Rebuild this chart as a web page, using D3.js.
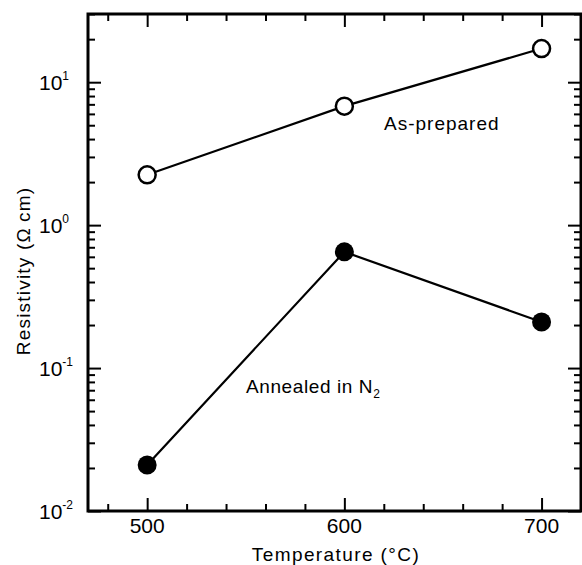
<!DOCTYPE html>
<html><head><meta charset="utf-8">
<script src="https://cdn.jsdelivr.net/npm/d3@7"></script>
<style>
html,body{margin:0;padding:0;background:#fff;}
svg{display:block;}
text{font-family:"Liberation Sans",Arial,Helvetica,sans-serif;fill:#000;}
</style></head>
<body>
<svg id="chart" width="582" height="565"></svg>
<script>
// ---- data ----
const temperatures = [500, 600, 700];
const asPrepared = [2.25, 6.8, 17.2];
const annealedN2 = [0.021, 0.65, 0.21];
const xMajorTicks = [500, 600, 700];
const xMinorTicks = [480, 520, 540, 560, 580, 620, 640, 660, 680];
const yDecadeTicks = [0.01, 0.1, 1, 10];
const yTickExponents = ["-2", "-1", "0", "1"];
const xTickLabels = ["500", "600", "700"];
const xDomain = [470, 720];
const yDomain = [0.01, 30];

// ---- layout ----
const L = 88, R = 581, T = 14, B = 511;
const svg = d3.select("#chart");
const x = d3.scaleLinear().domain(xDomain).range([L, R]);
const y = d3.scaleLog().domain(yDomain).range([B, T]);
const yMinorTicks = y.ticks().filter(v => !yDecadeTicks.some(d => Math.abs(d - v) / d < 1e-6));

function styleAxis(g) {
  g.select(".domain").remove();
  g.selectAll(".tick line").attr("stroke", "#000").attr("stroke-width", 2);
  g.selectAll(".tick text").remove();
}
// bottom
svg.append("g").attr("transform", `translate(0,${B})`).call(d3.axisBottom(x).tickValues(xMajorTicks).tickSize(-13).tickFormat("")).call(styleAxis);
svg.append("g").attr("transform", `translate(0,${B})`).call(d3.axisBottom(x).tickValues(xMinorTicks).tickSize(-7).tickFormat("")).call(styleAxis);
// top
svg.append("g").attr("transform", `translate(0,${T})`).call(d3.axisTop(x).tickValues(xMajorTicks).tickSize(-13).tickFormat("")).call(styleAxis);
svg.append("g").attr("transform", `translate(0,${T})`).call(d3.axisTop(x).tickValues(xMinorTicks).tickSize(-7).tickFormat("")).call(styleAxis);
// left
svg.append("g").attr("transform", `translate(${L},0)`).call(d3.axisLeft(y).tickValues(yDecadeTicks).tickSize(-13).tickFormat("")).call(styleAxis);
svg.append("g").attr("transform", `translate(${L},0)`).call(d3.axisLeft(y).tickValues(yMinorTicks).tickSize(-7).tickFormat("")).call(styleAxis);
// right
svg.append("g").attr("transform", `translate(${R},0)`).call(d3.axisRight(y).tickValues(yDecadeTicks).tickSize(-13).tickFormat("")).call(styleAxis);
svg.append("g").attr("transform", `translate(${R},0)`).call(d3.axisRight(y).tickValues(yMinorTicks).tickSize(-7).tickFormat("")).call(styleAxis);

// frame
svg.append("rect").attr("x", L).attr("y", T).attr("width", R - L).attr("height", B - T)
  .attr("fill", "none").attr("stroke", "#000").attr("stroke-width", 3);

// x tick labels
svg.append("g").selectAll("text").data(xMajorTicks).join("text")
  .attr("x", d => x(d)).attr("y", 533)
  .attr("text-anchor", "middle").attr("font-size", 21)
  .text((d, i) => xTickLabels[i]);

// y tick labels 10^n
const yl = svg.append("g").selectAll("text").data(yDecadeTicks).join("text")
  .attr("x", 39).attr("y", d => y(d) + 8)
  .attr("text-anchor", "start").attr("font-size", 21);
yl.append("tspan").text("10");
yl.append("tspan").attr("font-size", 12).attr("dy", -10).text((d, i) => yTickExponents[i]);

// axis titles
svg.append("text").attr("x", 336).attr("y", 561).attr("text-anchor", "middle")
  .attr("font-size", 19).attr("letter-spacing", 1.4).text("Temperature (°C)");
svg.append("text").attr("transform", "translate(30,271) rotate(-90)")
  .attr("text-anchor", "middle").attr("font-size", 19).attr("letter-spacing", 1.2)
  .text("Resistivity (Ω\u2009cm)");

// lines
const line = d3.line().x((d, i) => x(temperatures[i])).y(d => y(d));
svg.append("path").datum(asPrepared).attr("d", line).attr("fill", "none").attr("stroke", "#000").attr("stroke-width", 2.2);
svg.append("path").datum(annealedN2).attr("d", line).attr("fill", "none").attr("stroke", "#000").attr("stroke-width", 2.2);

// markers
svg.append("g").selectAll("circle").data(asPrepared).join("circle")
  .attr("cx", (d, i) => x(temperatures[i])).attr("cy", d => y(d)).attr("r", 8.5)
  .attr("fill", "#fff").attr("stroke", "#000").attr("stroke-width", 2.5);
svg.append("g").selectAll("circle").data(annealedN2).join("circle")
  .attr("cx", (d, i) => x(temperatures[i])).attr("cy", d => y(d)).attr("r", 9.5)
  .attr("fill", "#000");

// series labels
svg.append("text").attr("x", 384).attr("y", 130).attr("font-size", 19).attr("letter-spacing", 1).text("As-prepared");
const an = svg.append("text").attr("x", 246).attr("y", 393).attr("font-size", 19).attr("letter-spacing", 0.6);
an.append("tspan").text("Annealed in N");
an.append("tspan").attr("font-size", 12).attr("dy", 5).text("2");
</script>
</body></html>
